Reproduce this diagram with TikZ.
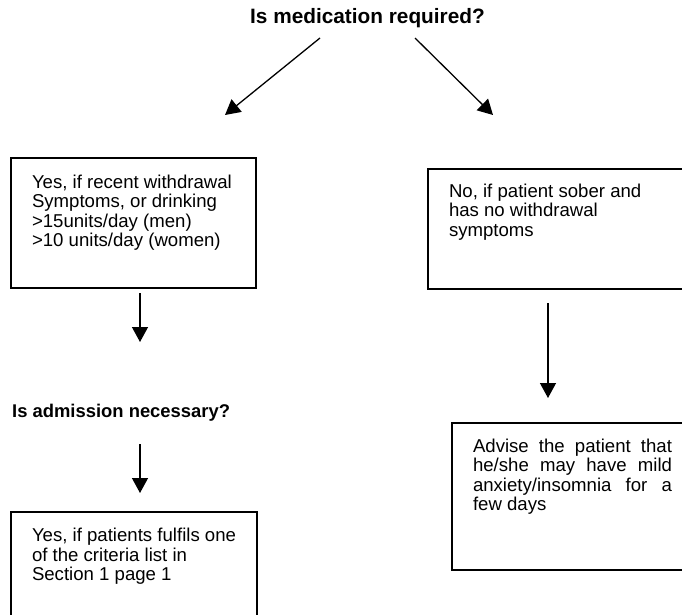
\documentclass[tikz,border=0pt]{standalone}
\usepackage{fontspec}
\setmainfont{Liberation Sans}
\usetikzlibrary{arrows.meta}

\newcommand{\bodytext}{\fontsize{18.6}{19.6}\selectfont}
\newcommand{\headtext}{\fontsize{18.4}{19.6}\selectfont\bfseries}

\tikzset{
  box/.style={draw, line width=1.3pt, rectangle, inner sep=0pt, outer sep=0pt, anchor=north west},
  boxtext/.style={inner sep=0pt, outer sep=0pt, anchor=base west},
  flow/.style={line width=1.3pt, -{Triangle[length=15pt,width=16pt]}},
}

\begin{document}
\begin{tikzpicture}[x=1pt,y=-1pt]
  \useasboundingbox (0,0) rectangle (682,615);
  \clip (0,0) rectangle (682,615);

  % questions
  \node[inner sep=0pt, anchor=base] (q1) at (367.5,23.5)
    {\fontsize{20.8}{22}\selectfont\bfseries Is medication required?};
  \node[inner sep=0pt, anchor=base west] (q2) at (12,417)
    {\headtext Is admission necessary?};

  % boxes
  \node[box, minimum width=245pt, minimum height=130pt] (yes1) at (11,158) {};
  \node[box, minimum width=246pt, minimum height=130pt] (yes2) at (11,512) {};
  \node[box, minimum width=262pt, minimum height=120pt] (no1) at (428,169) {};
  \node[box, minimum width=240pt, minimum height=147pt] (advise) at (452,423) {};

  % box texts
  \node[boxtext] (t1) at (32,188) {\parbox[t]{220pt}{\bodytext\raggedright
    Yes, if recent withdrawal\\
    Symptoms, or drinking\\
    {>}15units/day (men)\\
    {>}10 units/day (women)}};
  \node[boxtext] (t2) at (32,541.5) {\parbox[t]{220pt}{\bodytext\raggedright
    Yes, if patients fulfils one\\
    of the criteria list in\\
    Section 1 page 1}};
  \node[boxtext] (t3) at (449,197) {\parbox[t]{225pt}{\bodytext\raggedright
    No, if patient sober and\\
    has no withdrawal\\
    symptoms}};
  \node[boxtext] (t4) at (473,452) {\parbox[t]{199pt}{\bodytext
    \makebox[199pt][s]{Advise the patient that}\\
    \makebox[199pt][s]{he/she may have mild}\\
    \makebox[199pt][s]{anxiety/insomnia for a}\\
    few days}};

  % arrow ends
  \coordinate (l1s) at (320,38);
  \coordinate (l1e) at (225,115);
  \coordinate (r1s) at (415,38);
  \coordinate (r1e) at (493,115);
  \coordinate (d1s) at (140,293);
  \coordinate (d1e) at (140,342);
  \coordinate (d2s) at (140,444);
  \coordinate (d2e) at (140,493);
  \coordinate (d3s) at (548,303);
  \coordinate (d3e) at (548,398);

  % arrows
  \draw[flow] (l1s) -- (l1e);
  \draw[flow] (r1s) -- (r1e);
  \draw[flow] (d1s) -- (d1e);
  \draw[flow] (d2s) -- (d2e);
  \draw[flow] (d3s) -- (d3e);
\end{tikzpicture}
\end{document}
